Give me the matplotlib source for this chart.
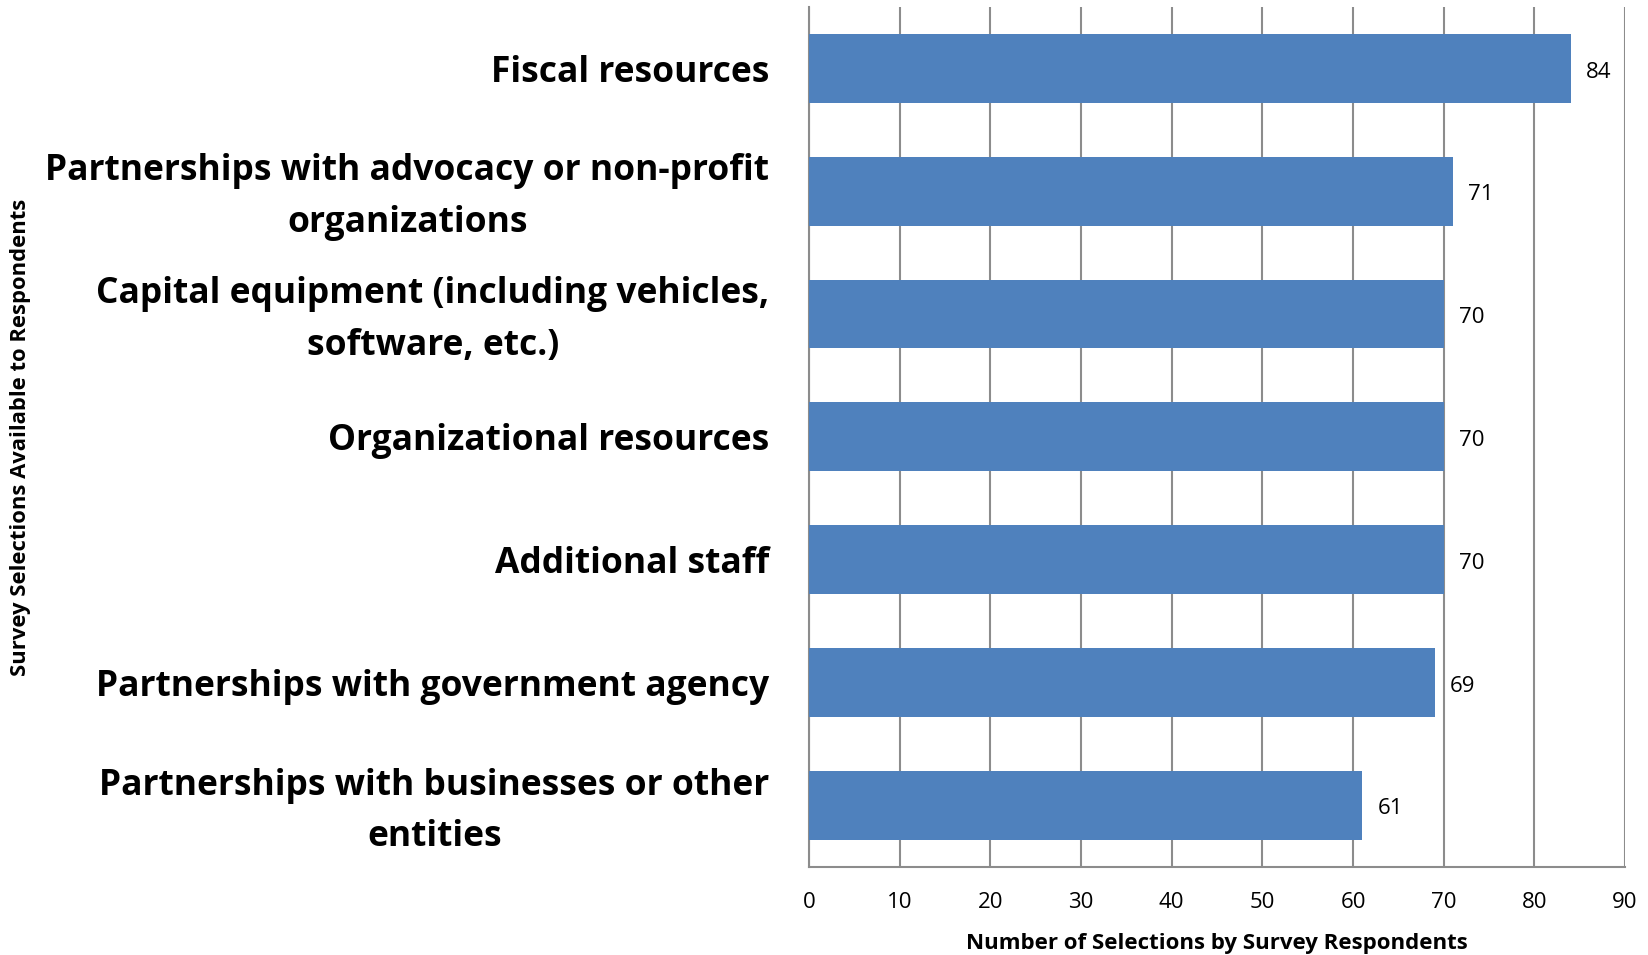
import matplotlib
matplotlib.use("Agg")
import matplotlib.pyplot as plt
from matplotlib.transforms import ScaledTranslation

categories = [
    "Fiscal resources",
    "Partnerships with advocacy or non-profit\norganizations",
    "Capital equipment (including vehicles,\nsoftware, etc.)",
    "Organizational resources",
    "Additional staff",
    "Partnerships with government agency",
    "Partnerships with businesses or other\nentities",
]
values = [84, 71, 70, 70, 70, 69, 61]
xticks = [0, 10, 20, 30, 40, 50, 60, 70, 80, 90]

plt.rcParams['font.family'] = ['Open Sans', 'DejaVu Sans']

fig = plt.figure(figsize=(16.49, 9.55), dpi=100)
ax = fig.add_axes([809/1649, 1-866.7/955, (1625-809)/1649, (866.7-7)/955])

ypos = list(range(len(categories)))
ax.barh(ypos, values, height=0.56, color="#4F81BD", zorder=3)
ax.set_ylim(len(categories)-0.5, -0.5)
ax.set_xlim(0, 90)
ax.set_xticks(xticks)
ax.set_xticklabels([str(t) for t in xticks], fontsize=16)
ax.tick_params(axis='x', length=0, pad=18.5)
ax.set_yticks(ypos)
ax.set_yticklabels(categories, fontsize=25.5, fontweight='bold', multialignment='center',
                   linespacing=1.58)
ax.tick_params(axis='y', length=0, pad=28.5)
for lab in ax.get_yticklabels():
    if "\n" in lab.get_text():
        lab.set_transform(lab.get_transform() + ScaledTranslation(0, 4.5/72, fig.dpi_scale_trans))
ax.grid(axis='x', color='#8c8c8c', linewidth=1.5, zorder=0)
for s in ['top', 'right']:
    ax.spines[s].set_visible(False)
for s in ['left', 'bottom']:
    ax.spines[s].set_color('#8c8c8c')
    ax.spines[s].set_linewidth(1.5)

for y, v in zip(ypos, values):
    ax.text(v + 1.7, y + 0.03, str(v), va='center', ha='left', fontsize=16, zorder=4)

ax.set_xlabel("Number of Selections by Survey Respondents", fontsize=16, fontweight='bold', labelpad=14)
fig.text(21/1649, 1-437/955, "Survey Selections Available to Respondents", rotation=90,
         va='center', ha='center', fontsize=15.8, fontweight='bold')

fig.savefig("out.png", dpi=100)
